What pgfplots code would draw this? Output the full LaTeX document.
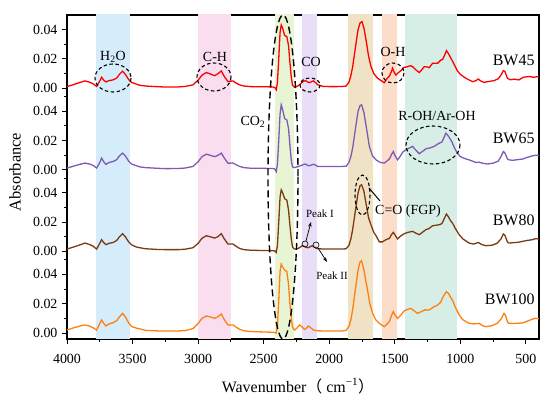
\documentclass[border=0pt]{standalone}
\usepackage{pgfplots}
\pgfplotsset{compat=1.18}
\usepackage{pgfplotstable}
\usetikzlibrary{arrows.meta}
\usepackage{fontspec}
\setmainfont{Liberation Serif}
\newfontfamily\cjk{Noto Sans CJK SC}
\definecolor{bblue}{HTML}{D5EDFA}
\definecolor{bpink}{HTML}{FBDDF0}
\definecolor{bgreen}{HTML}{E8F5D5}
\definecolor{bpurple}{HTML}{E8DEF8}
\definecolor{btan}{HTML}{F0E3C5}
\definecolor{bpeach}{HTML}{FCDDCA}
\definecolor{bteal}{HTML}{D6EEE6}
\definecolor{cred}{HTML}{FF0000}
\definecolor{cpur}{HTML}{7D5BB5}
\definecolor{cbrn}{HTML}{7B3A10}
\definecolor{corg}{HTML}{FF7F0F}

\pgfplotstableread{
x y
4000 0.0011
3950 0.0025
3900 0.004
3863 0.005
3830 0.0042
3800 0.003
3774 0.0012
3750 0.005
3736 0.0075
3720 0.0055
3703 0.0043
3680 0.0052
3648 0.0057
3620 0.007
3600 0.0095
3576 0.0116
3555 0.0095
3530 0.006
3508 0.004
3470 0.0028
3444 0.002
3400 0.0015
3300 0.001
3241 0.0008
3150 0.0009
3100 0.0012
3039 0.0023
3000 0.0055
2970 0.009
2937 0.0107
2900 0.0095
2874 0.0086
2850 0.0098
2823 0.0118
2800 0.008
2772 0.0045
2750 0.0048
2734 0.005
2710 0.0035
2683 0.0023
2650 0.0015
2600 0.0011
2500 0.001
2430 0.0009
2415 0.0005
2404 -0.0011
2395 0.004
2385 0.02
2375 0.038
2366 0.0432
2355 0.041
2340 0.036
2323 0.0352
2310 0.029
2300 0.018
2290 0.008
2280 0.002
2265 0.0007
2245 0.0012
2227 0.0023
2200 0.0045
2181 0.0052
2165 0.0043
2151 0.0038
2135 0.0045
2120 0.005
2100 0.0035
2088 0.0023
2050 0.0013
2000 0.0011
1950 0.0011
1900 0.0012
1871 0.0015
1850 0.004
1835 0.0085
1821 0.0147
1800 0.028
1780 0.04
1765 0.0445
1750 0.0455
1735 0.041
1715 0.0307
1700 0.022
1681 0.0147
1660 0.01
1631 0.0068
1600 0.005
1580 0.0038
1560 0.0065
1540 0.0085
1525 0.0115
1517 0.0137
1505 0.011
1491 0.009
1475 0.0105
1453 0.012
1428 0.0143
1410 0.0145
1395 0.015
1377 0.0154
1364 0.0147
1339 0.0125
1313 0.0107
1290 0.013
1276 0.0147
1250 0.0145
1237 0.014
1212 0.017
1174 0.017
1148 0.0193
1136 0.0195
1120 0.0225
1106 0.0257
1090 0.0235
1072 0.0205
1060 0.0185
1040 0.015
1022 0.0118
1000 0.0095
958 0.0068
907 0.0045
880 0.0052
864 0.0063
845 0.005
819 0.004
790 0.0045
743 0.0052
710 0.0065
690 0.009
672 0.012
660 0.0115
641 0.0068
620 0.0058
590 0.0062
553 0.0057
520 0.0075
476 0.008
440 0.0075
400 0.008
}\bwff

\pgfplotstableread{
x y
4000 0.0012
3950 0.0025
3900 0.0038
3863 0.0046
3830 0.004
3800 0.003
3774 0.0012
3750 0.005
3736 0.008
3720 0.0055
3703 0.0037
3680 0.005
3648 0.0057
3620 0.007
3600 0.0095
3576 0.0114
3555 0.0095
3530 0.006
3508 0.004
3470 0.0028
3444 0.002
3400 0.0015
3300 0.001
3241 0.0008
3150 0.0009
3100 0.0012
3039 0.0023
3000 0.0055
2970 0.009
2937 0.0107
2900 0.0097
2874 0.009
2850 0.0098
2823 0.0114
2800 0.008
2772 0.0045
2750 0.0046
2734 0.0046
2710 0.0035
2683 0.0023
2650 0.0015
2600 0.0011
2500 0.001
2430 0.0009
2415 0.0005
2404 -0.0012
2395 0.004
2385 0.02
2375 0.038
2366 0.0444
2355 0.041
2340 0.035
2323 0.034
2310 0.028
2300 0.017
2290 0.007
2280 0.002
2265 0.0015
2245 0.002
2227 0.0025
2200 0.0035
2181 0.004
2165 0.003
2151 0.0028
2135 0.0033
2120 0.0038
2100 0.003
2088 0.0023
2050 0.0022
2000 0.0022
1950 0.0023
1900 0.0023
1871 0.0025
1850 0.005
1835 0.009
1821 0.015
1800 0.028
1780 0.04
1765 0.0438
1753 0.0444
1735 0.039
1715 0.028
1694 0.016
1670 0.0095
1643 0.0068
1610 0.005
1580 0.0046
1560 0.006
1540 0.0075
1525 0.0105
1511 0.0125
1500 0.01
1479 0.0068
1460 0.009
1440 0.012
1415 0.0137
1390 0.0148
1364 0.016
1340 0.0135
1313 0.011
1290 0.0125
1260 0.0145
1237 0.0148
1200 0.016
1161 0.0182
1140 0.019
1125 0.022
1110 0.025
1095 0.0235
1080 0.0215
1065 0.0193
1045 0.015
1022 0.0114
1000 0.009
960 0.0075
933 0.0068
880 0.005
857 0.0052
830 0.0045
794 0.004
750 0.0045
710 0.006
690 0.009
672 0.0125
660 0.0115
641 0.0075
629 0.0068
600 0.0065
560 0.007
528 0.0073
490 0.0085
450 0.0095
426 0.01
400 0.0098
}\bwsf

\pgfplotstableread{
x y
4000 0.0016
3950 0.003
3900 0.0045
3863 0.0057
3830 0.0048
3800 0.0035
3774 0.0016
3750 0.0055
3736 0.008
3720 0.006
3703 0.0046
3680 0.0055
3648 0.0061
3620 0.0075
3600 0.01
3576 0.0121
3555 0.01
3530 0.0065
3508 0.0045
3470 0.003
3444 0.0025
3400 0.0018
3300 0.0013
3241 0.0012
3150 0.0012
3100 0.0015
3039 0.0025
3000 0.0055
2970 0.009
2937 0.0107
2900 0.0098
2874 0.0091
2850 0.01
2823 0.0121
2800 0.0085
2772 0.005
2750 0.005
2734 0.005
2710 0.0035
2683 0.002
2650 0.0012
2600 0.0008
2500 0.0006
2430 0.0005
2415 0.0003
2404 -0.0007
2395 0.004
2385 0.02
2375 0.037
2366 0.042
2355 0.04
2340 0.036
2323 0.035
2310 0.028
2300 0.018
2290 0.009
2280 0.003
2265 0.0016
2245 0.0018
2227 0.0025
2205 0.0039
2190 0.0035
2175 0.0028
2165 0.0025
2150 0.003
2130 0.0039
2115 0.003
2095 0.002
2050 0.0016
2000 0.0016
1950 0.0016
1900 0.0016
1871 0.0018
1850 0.004
1835 0.0085
1821 0.015
1800 0.028
1780 0.04
1765 0.0448
1753 0.0455
1735 0.041
1720 0.033
1700 0.023
1681 0.018
1660 0.013
1643 0.0107
1618 0.0065
1595 0.0065
1567 0.008
1540 0.009
1525 0.0115
1511 0.013
1500 0.0115
1479 0.0085
1455 0.0105
1430 0.012
1400 0.013
1364 0.0137
1340 0.0125
1313 0.0114
1290 0.013
1260 0.015
1240 0.0155
1212 0.0175
1161 0.0182
1140 0.019
1125 0.022
1106 0.0255
1090 0.0235
1075 0.021
1060 0.0194
1040 0.016
1009 0.0114
980 0.0085
933 0.0057
900 0.005
862 0.0061
840 0.0048
806 0.0039
760 0.0042
720 0.0055
690 0.0085
672 0.0119
660 0.011
641 0.0065
629 0.0057
590 0.006
560 0.0062
528 0.0068
490 0.0075
450 0.008
426 0.0087
400 0.0085
}\bwe

\pgfplotstableread{
x y
4000 0.002
3950 0.0035
3900 0.0048
3863 0.0055
3830 0.0048
3800 0.0035
3774 0.002
3750 0.0065
3736 0.0089
3720 0.0065
3703 0.0048
3680 0.0062
3648 0.007
3620 0.0085
3600 0.011
3576 0.0134
3555 0.011
3530 0.007
3508 0.0045
3470 0.0033
3444 0.0028
3400 0.0018
3300 0.0014
3241 0.0013
3150 0.0014
3100 0.0016
3039 0.003
3000 0.0065
2970 0.01
2937 0.0116
2900 0.0108
2874 0.01
2850 0.011
2823 0.013
2800 0.009
2772 0.0055
2750 0.0055
2734 0.0055
2710 0.004
2683 0.0025
2650 0.0015
2600 0.001
2500 0.0007
2430 0.0005
2415 0.0003
2404 0.0
2395 0.005
2385 0.022
2375 0.042
2366 0.047
2355 0.045
2340 0.043
2323 0.042
2310 0.033
2300 0.02
2290 0.011
2280 0.004
2265 0.002
2245 0.0035
2227 0.0055
2205 0.004
2190 0.0025
2175 0.003
2160 0.0048
2140 0.0035
2120 0.002
2090 0.0015
2050 0.0014
2000 0.0014
1950 0.0014
1900 0.0014
1871 0.0018
1850 0.0045
1835 0.009
1821 0.016
1800 0.03
1780 0.043
1765 0.0485
1753 0.0494
1735 0.043
1720 0.035
1707 0.029
1690 0.02
1669 0.0134
1645 0.009
1618 0.0066
1580 0.0043
1560 0.006
1540 0.008
1525 0.012
1511 0.0146
1500 0.0125
1479 0.01
1455 0.012
1430 0.015
1400 0.0162
1377 0.0168
1350 0.015
1326 0.0134
1300 0.0145
1270 0.0158
1237 0.0157
1200 0.018
1174 0.019
1150 0.021
1130 0.025
1106 0.0282
1090 0.027
1075 0.0245
1060 0.0225
1040 0.018
1009 0.0123
980 0.009
933 0.0066
900 0.0062
857 0.0066
830 0.005
806 0.0043
760 0.005
720 0.0065
690 0.0095
667 0.0134
655 0.012
640 0.0075
629 0.0066
590 0.0065
560 0.0067
528 0.0068
490 0.008
450 0.0095
426 0.01
400 0.0098
}\bwh

\begin{document}
\begin{tikzpicture}
\path[use as bounding box] (0,0) rectangle (550bp,401bp);
\begin{axis}[
  at={(67bp,62bp)}, anchor=south west,
  width=472bp, height=324bp, scale only axis,
  xmin=400, xmax=4000, x dir=reverse,
  ymin=-0.0041, ymax=0.2171,
  xtick={500,1000,1500,2000,2500,3000,3500,4000},
  xticklabels={500,1000,1500,2000,2500,3000,3500,4000},
  minor xtick={750,1250,1750,2250,2750,3250,3750},
  ytick={0,0.02,0.04,0.0557,0.0757,0.0957,0.1114,0.1314,0.1514,0.1671,0.1871,0.2071},
  yticklabels={0.00,0.02,0.04,0.00,0.02,0.04,0.00,0.02,0.04,0.00,0.02,0.04},
  minor ytick={0.01,0.03,0.05,0.0657,0.0857,0.1057,0.1214,0.1414,0.1614,0.1771,0.1971},
  tick align=outside, tick pos=left,
  major tick length=5bp, minor tick length=3bp,
  axis line style={line width=1.2bp},
  every tick/.style={black, line width=0.9bp},
  tick label style={font=\fontsize{14}{16}\selectfont},
  x tick label style={yshift=-7bp},
  y tick label style={xshift=-1bp},
  /pgf/number format/assume math mode=true,
]
\fill[bblue] (axis cs:3780,-0.01) rectangle (axis cs:3520,0.23);
\fill[bpink] (axis cs:3000,-0.01) rectangle (axis cs:2752,0.23);
\fill[bgreen] (axis cs:2410,-0.01) rectangle (axis cs:2270,0.23);
\fill[bpurple] (axis cs:2205,-0.01) rectangle (axis cs:2090,0.23);
\fill[btan] (axis cs:1860,-0.01) rectangle (axis cs:1668,0.23);
\fill[bpeach] (axis cs:1595,-0.01) rectangle (axis cs:1485,0.23);
\fill[bteal] (axis cs:1420,-0.01) rectangle (axis cs:1025,0.23);
\addplot[cred, line width=1.3bp, no marks] table[x index=0, y expr=\thisrowno{1}+0.1671] {\bwff};
\addplot[cpur, line width=1.3bp, no marks] table[x index=0, y expr=\thisrowno{1}+0.1114] {\bwsf};
\addplot[cbrn, line width=1.3bp, no marks] table[x index=0, y expr=\thisrowno{1}+0.0557] {\bwe};
\addplot[corg, line width=1.3bp, no marks] table[x index=0, y expr=\thisrowno{1}] {\bwh};
\end{axis}
\begin{scope}[shift={(0bp,401bp)}, x=1bp, y=-1bp]
\tikzset{dsh/.style={black, line width=1.1bp, dash pattern=on 3.5bp off 2.5bp}}
\node[rotate=90, font=\fontsize{16.5}{18}\selectfont] at (15,172) {Absorbance};
\node[font=\fontsize{16}{18}\selectfont] at (298,386) {Wavenumber{\cjk （} cm\textsuperscript{−1}{\cjk ）}};
% annotations
\node[font=\fontsize{14}{16}\selectfont] at (113,57) {H\textsubscript{2}O};
\draw[dsh] (113,78) ellipse [x radius=18, y radius=14];
\node[font=\fontsize{14}{16}\selectfont] at (215,57) {C-H};
\draw[dsh] (214,77) ellipse [x radius=17, y radius=14];
\node[font=\fontsize{14}{16}\selectfont] at (253,122) {CO\textsubscript{2}};
\draw[black, line width=1.4bp, dash pattern=on 7bp off 4bp] (283,177) ellipse [x radius=15, y radius=162];
\node[font=\fontsize{14}{16}\selectfont] at (311,62) {CO};
\draw[dsh] (310,85) ellipse [x radius=10, y radius=7];
\node[font=\fontsize{14}{16}\selectfont] at (393,52) {O-H};
\draw[dsh] (393,73) ellipse [x radius=11, y radius=10];
\node[font=\fontsize{14}{16}\selectfont] at (437,116) {R-OH/Ar-OH};
\draw[dsh] (433,145) ellipse [x radius=27, y radius=19];
\node[font=\fontsize{14}{16}\selectfont] at (408,211) {C=O (FGP)};
\draw[dsh] (362.5,195) ellipse [x radius=7.5, y radius=20];
\draw[black, line width=1bp] (369,188) -- (380,201);
\draw[black, line width=0.6bp] (305,244) circle [radius=3];
\draw[black, line width=0.6bp] (316,245) circle [radius=3];
\draw[black, line width=0.7bp, -{Stealth[length=5bp,width=3.5bp]}] (306,241) -- (311,222);
\draw[black, line width=0.7bp, -{Stealth[length=5bp,width=3.5bp]}] (318,248) -- (327,262);
\node[font=\fontsize{11}{13}\selectfont] at (320,214) {Peak I};
\node[font=\fontsize{11}{13}\selectfont] at (332,276) {Peak II};
\node[anchor=east, font=\fontsize{16}{18}\selectfont] at (538,60) {BW45};
\node[anchor=east, font=\fontsize{16}{18}\selectfont] at (538,138) {BW65};
\node[anchor=east, font=\fontsize{16}{18}\selectfont] at (538,220) {BW80};
\node[anchor=east, font=\fontsize{16}{18}\selectfont] at (538,299) {BW100};
\end{scope}
\end{tikzpicture}
\end{document}
